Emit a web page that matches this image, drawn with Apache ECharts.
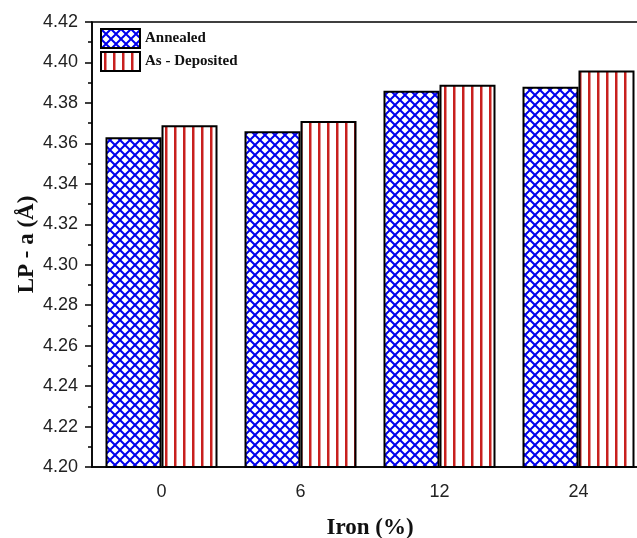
<!DOCTYPE html>
<html>
<head>
<meta charset="utf-8">
<script src="https://cdn.jsdelivr.net/npm/echarts@6/dist/echarts.min.js"></script>
<style>
  html, body { margin: 0; padding: 0; background: #fff; }
  #main { width: 637px; height: 538px; }
</style>
</head>
<body>
<div id="main"></div>
<script>
// data
var ironLevels = ['0', '6', '12', '24'];
var annealed = [4.363, 4.366, 4.386, 4.388];
var asDeposited = [4.369, 4.371, 4.389, 4.396];
var seriesNames = ['Annealed', 'As - Deposited'];

// fill patterns
function crossHatch() {
    var c = document.createElement('canvas');
    c.width = 10; c.height = 10;
    var g = c.getContext('2d');
    g.fillStyle = '#fff';
    g.fillRect(0, 0, 10, 10);
    g.strokeStyle = '#0000ee';
    g.lineWidth = 2;
    g.beginPath();
    g.moveTo(-2, -2); g.lineTo(12, 12);
    g.moveTo(12, -2); g.lineTo(-2, 12);
    g.stroke();
    return c;
}
function stripes() {
    var c = document.createElement('canvas');
    c.width = 9; c.height = 9;
    var g = c.getContext('2d');
    g.fillStyle = '#fff';
    g.fillRect(0, 0, 9, 9);
    g.fillStyle = '#c8201e';
    g.fillRect(3, 0, 2.5, 9);
    return c;
}

var myChart = echarts.init(document.getElementById('main'));

var serif = 'Liberation Serif';
var sans = 'Liberation Sans';

var option = {
    animation: false,
    backgroundColor: '#fff',
    grid: {
        left: 92, top: 22, width: 556, height: 445,
        outerBoundsMode: 'none',
        containLabel: false,
        show: true, borderColor: '#000', borderWidth: 1.5
    },
    legend: {
        left: 95, top: 23,
        orient: 'vertical',
        icon: 'rect',
        itemWidth: 39, itemHeight: 19,
        itemGap: 2,
        data: seriesNames,
        textStyle: { fontFamily: serif, fontWeight: 'bold', fontSize: 15, color: '#111' }
    },
    xAxis: [{
        type: 'category',
        data: ironLevels,
        name: 'Iron (%)',
        nameLocation: 'middle',
        nameGap: 50,
        nameMoveOverlap: false,
        nameTextStyle: { fontFamily: serif, fontWeight: 'bold', fontSize: 23, color: '#111' },
        axisLine: { lineStyle: { color: '#000', width: 1.5 } },
        axisTick: { alignWithLabel: true, length: 7, lineStyle: { color: '#000', width: 1.5 } },
        axisLabel: { fontFamily: sans, fontSize: 18, color: '#222', margin: 16 }
    }, {
        type: 'category',
        data: ironLevels,
        position: 'bottom',
        axisLine: { show: false },
        axisTick: { length: 4, lineStyle: { color: '#000', width: 1.5 } },
        axisLabel: { show: false }
    }],
    yAxis: {
        type: 'value',
        min: 4.20, max: 4.42, interval: 0.02,
        name: 'LP - a (Å)',
        nameLocation: 'middle',
        nameGap: 53,
        nameMoveOverlap: false,
        nameTextStyle: { fontFamily: serif, fontWeight: 'bold', fontSize: 23, color: '#111' },
        axisLine: { show: true, lineStyle: { color: '#000', width: 1.5 } },
        axisTick: { show: true, length: 7, lineStyle: { color: '#000', width: 1.5 } },
        minorTick: { show: true, splitNumber: 2, length: 4, lineStyle: { color: '#000', width: 1.5 } },
        splitLine: { show: false },
        axisLabel: {
            fontFamily: sans, fontSize: 18, color: '#222', margin: 14,
            formatter: function (v) { return v.toFixed(2); }
        }
    },
    series: [{
        name: seriesNames[0],
        type: 'bar',
        xAxisIndex: 0,
        data: annealed,
        barWidth: 56,
        barGap: '0%',
        itemStyle: {
            color: { image: crossHatch(), repeat: 'repeat' },
            borderColor: '#000', borderWidth: 2
        }
    }, {
        name: seriesNames[1],
        type: 'bar',
        xAxisIndex: 0,
        data: asDeposited,
        barWidth: 56,
        barGap: '0%',
        itemStyle: {
            color: { image: stripes(), repeat: 'repeat' },
            borderColor: '#000', borderWidth: 2
        }
    }]
};

myChart.setOption(option);
</script>
</body>
</html>
